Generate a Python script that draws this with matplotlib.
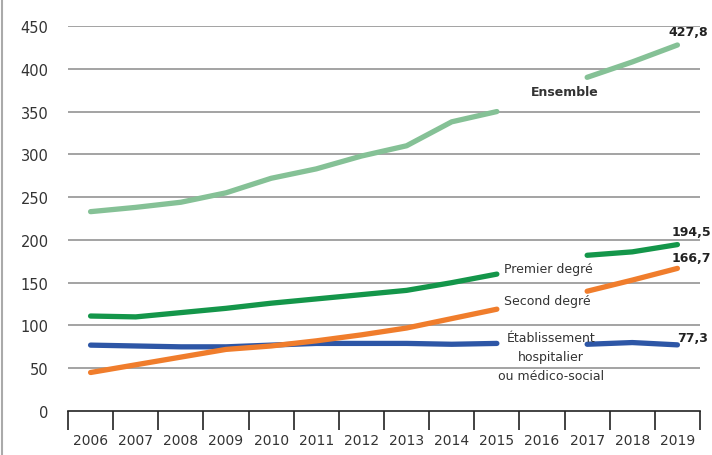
import numpy as np
import matplotlib.pyplot as plt

years = ["2006", "2007", "2008", "2009", "2010", "2011", "2012",
         "2013", "2014", "2015", "2016", "2017", "2018", "2019"]
ensemble = [233, 238, 244, 255, 272, 283, 298, 310, 338, 350, np.nan, 390, 408, 427.8]
premier = [111, 110, 115, 120, 126, 131, 136, 141, 150, 160, np.nan, 182, 186, 194.5]
second = [45, 54, 63, 72, 76, 82, 89, 97, 108, 119, np.nan, 140, 153, 166.7]
etab = [77, 76, 75, 75, 77, 79, 79, 79, 78, 79, np.nan, 78, 80, 77.3]

c_ens = "#85c196"
c_pre = "#14964a"
c_sec = "#f07d2c"
c_eta = "#2d56a6"

plt.rcParams['font.family'] = ['DejaVu Sans']
fig = plt.figure(figsize=(7.12, 4.56), dpi=100)
ax = fig.add_axes([68 / 712, 44 / 456, 632 / 712, 385 / 456])
x = np.arange(len(years))

for yy in range(50, 451, 50):
    ax.axhline(yy, color="#8a8a8a", lw=1.1, zorder=1)

for vals, col in [(ensemble, c_ens), (etab, c_eta), (second, c_sec), (premier, c_pre)]:
    ax.plot(x, vals, color=col, lw=3.8, solid_capstyle="round", zorder=3, clip_on=False)

ax.set_xlim(-0.5, len(years) - 0.5)
ax.set_ylim(0, 450)
ax.set_yticks(range(0, 451, 50))
ax.tick_params(axis="y", length=0, pad=14, labelsize=10.5, labelcolor="#333333")
ax.set_xticks(np.arange(-0.5, len(years), 1.0))
ax.set_xticklabels([])
ax.set_xticks(x, minor=True)
ax.set_xticklabels(years, minor=True)
ax.tick_params(axis="x", which="major", length=14, width=1.2, color="#222222", direction="out")
ax.tick_params(axis="x", which="minor", length=0, pad=16, labelsize=10, labelcolor="#333333")
for s in ["top", "right", "left"]:
    ax.spines[s].set_visible(False)
ax.spines["bottom"].set_color("#222222")
ax.spines["bottom"].set_linewidth(1.2)

txt = dict(fontsize=9, color="#333333", zorder=4)
ax.text(10.5, 374, "Ensemble", ha="center", va="center", fontweight="bold", **txt)
ax.text(9.15, 167, "Premier degré", ha="left", va="center", **txt)
ax.text(9.15, 129, "Second degré", ha="left", va="center", **txt)
ax.text(10.2, 64, "Établissement\nhospitalier\nou médico-social", ha="center", va="center",
        linespacing=1.6, **txt)
val = dict(fontsize=9, color="#222222", fontweight="bold", ha="left", va="center", clip_on=False)
ax.text(12.8, 444, "427,8", **val)
ax.text(12.88, 210, "194,5", **val)
ax.text(12.88, 179, "166,7", **val)
ax.text(13.0, 86, "77,3", **val)

fig.add_artist(plt.Line2D([2 / 712, 2 / 712], [0, 1], color="#aaaaaa", lw=1.5))
fig.savefig("out.png", dpi=100)
